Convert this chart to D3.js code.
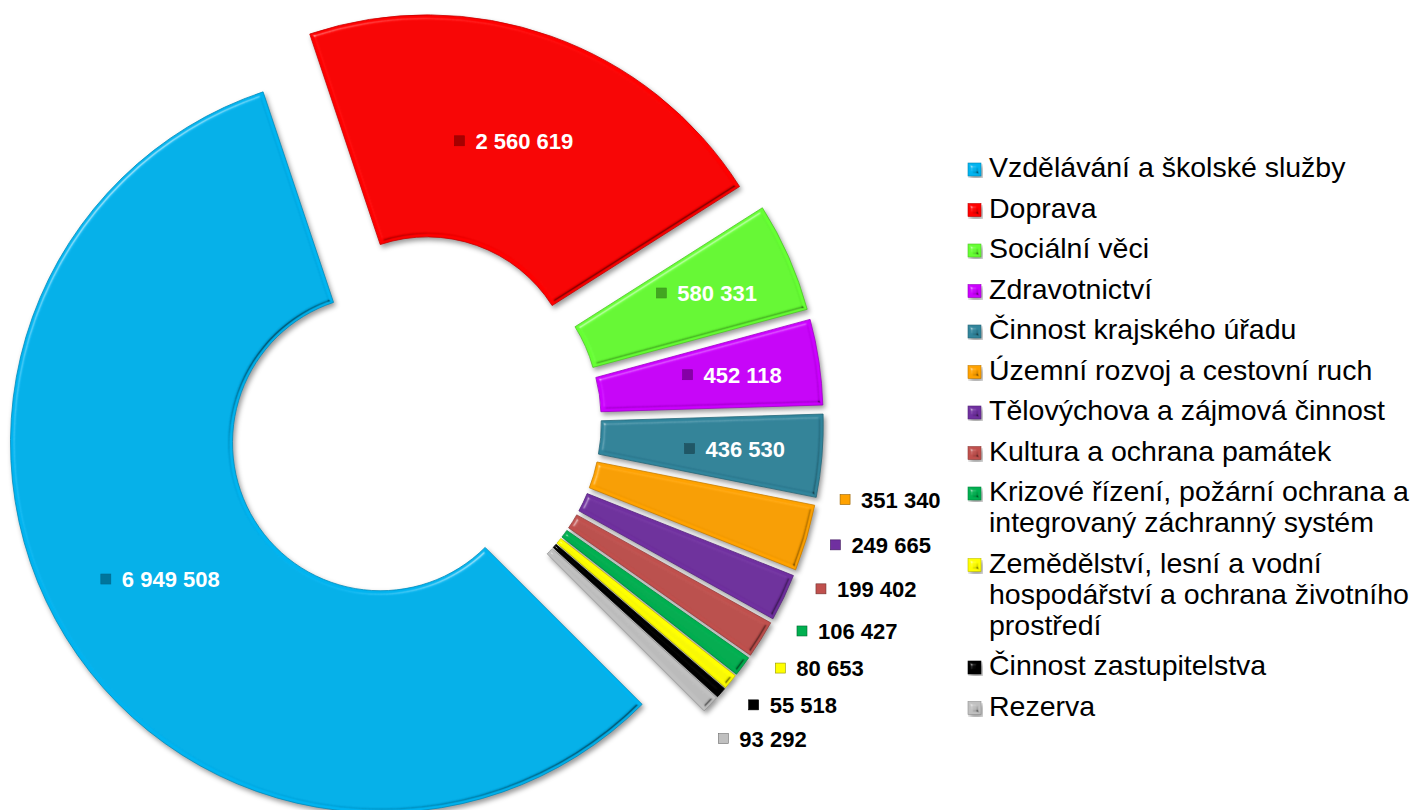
<!DOCTYPE html>
<html>
<head>
<meta charset="utf-8">
<script src="https://cdn.jsdelivr.net/npm/d3@7"></script>
<style>
body{margin:0;background:#fff;}
svg{display:block;}
</style>
</head>
<body>
<script>
//wrapping everything in self executing anonymous function to move to local scope
(function(){
//chart data
var categories = [
    "Vzdělávání a školské služby",
    "Doprava",
    "Sociální věci",
    "Zdravotnictví",
    "Činnost krajského úřadu",
    "Územní rozvoj a cestovní ruch",
    "Tělovýchova a zájmová činnost",
    "Kultura a ochrana památek",
    "Krizové řízení, požární ochrana a integrovaný záchranný systém",
    "Zemědělství, lesní a vodní hospodářství a ochrana životního prostředí",
    "Činnost zastupitelstva",
    "Rezerva"
];
var values = [6949508, 2560619, 580331, 452118, 436530, 351340, 249665, 199402, 106427, 80653, 55518, 93292];
var colors = ["#00b4f0", "#ff0000", "#66ff33", "#cc00ff", "#31859c", "#ffa200", "#7030a0", "#c0504d", "#00b050", "#ffff00", "#000000", "#c0c0c0"];

//frame and donut geometry
var width = 1414,
    height = 810,
    centerX = 414,
    centerY = 422,
    innerRadius = 148,
    outerRadius = 370,
    explode = 39.4,
    startAngle = 135 * Math.PI / 180;

var formatNumber = function(v){
    return d3.format(",")(v).replace(/,/g, " ");
};

//execute script when window is loaded
window.onload = setChart();

function setChart(){
    var svg = d3.select("body")
        .append("svg")
        .attr("width", width)
        .attr("height", height);

    makeFilters(svg);

    var data = categories.map(function(c, i){
        return {name: c, value: values[i], color: colors[i]};
    });

    //pie layout, first slice at 135 degrees, no sorting
    var pie = d3.pie()
        .sort(null)
        .value(function(d){ return d.value; })
        .startAngle(startAngle)
        .endAngle(startAngle + 2 * Math.PI);

    var arcs = pie(data);

    drawSlices(svg, arcs);
    drawLabels(svg, arcs);
    drawLegend(svg, data);
};//end of setChart

//unit vector for a d3 angle (0 = 12 o'clock, clockwise)
function dir(a){
    return [Math.sin(a), -Math.cos(a)];
};

function sliceCenter(d){
    var u = dir((d.startAngle + d.endAngle) / 2);
    return [centerX + explode * u[0], centerY + explode * u[1]];
};

function makeFilters(svg){
    var defs = svg.append("defs");
    var f = defs.append("filter")
        .attr("id", "bevel")
        .attr("color-interpolation-filters", "sRGB")
        .attr("x", "-10%").attr("y", "-10%")
        .attr("width", "125%").attr("height", "125%");
    f.append("feGaussianBlur").attr("in", "SourceAlpha").attr("stdDeviation", 2).attr("result", "blur");
    //highlight from top left
    var hi = f.append("feSpecularLighting")
        .attr("in", "blur").attr("surfaceScale", 4).attr("specularConstant", 1)
        .attr("specularExponent", 30).attr("lighting-color", "#ffffff").attr("result", "hi");
    hi.append("feDistantLight").attr("azimuth", 225).attr("elevation", 40);
    f.append("feColorMatrix").attr("in", "hi").attr("type", "matrix")
        .attr("values", "0 0 0 0 1  0 0 0 0 1  0 0 0 0 1  0 0 0 0.55 0").attr("result", "hiA");
    f.append("feComposite").attr("in", "hiA").attr("in2", "SourceAlpha").attr("operator", "in").attr("result", "hiIn");
    //shade from bottom right
    var lo = f.append("feSpecularLighting")
        .attr("in", "blur").attr("surfaceScale", 4).attr("specularConstant", 1)
        .attr("specularExponent", 30).attr("lighting-color", "#ffffff").attr("result", "lo");
    lo.append("feDistantLight").attr("azimuth", 45).attr("elevation", 40);
    f.append("feColorMatrix").attr("in", "lo").attr("type", "matrix")
        .attr("values", "0 0 0 0 0  0 0 0 0 0  0 0 0 0 0  0 0 0 0.5 0").attr("result", "loA");
    f.append("feComposite").attr("in", "loA").attr("in2", "SourceAlpha").attr("operator", "in").attr("result", "loIn");
    //drop shadow
    f.append("feGaussianBlur").attr("in", "SourceAlpha").attr("stdDeviation", 2.5).attr("result", "sblur");
    f.append("feOffset").attr("in", "sblur").attr("dx", 2).attr("dy", 3).attr("result", "soff");
    f.append("feFlood").attr("flood-color", "#000").attr("flood-opacity", 0.4).attr("result", "flood");
    f.append("feComposite").attr("in", "flood").attr("in2", "soff").attr("operator", "in").attr("result", "shadow");
    var m = f.append("feMerge");
    m.append("feMergeNode").attr("in", "shadow");
    m.append("feMergeNode").attr("in", "SourceGraphic");
    m.append("feMergeNode").attr("in", "hiIn");
    m.append("feMergeNode").attr("in", "loIn");
};//end of makeFilters

function drawSlices(svg, arcs){
    var arc = d3.arc()
        .innerRadius(innerRadius)
        .outerRadius(outerRadius);

    svg.selectAll(".slice")
        .data(arcs)
        .enter()
        .append("path")
        .attr("class", "slice")
        .attr("transform", function(d){
            return "translate(" + sliceCenter(d) + ")";
        })
        .attr("d", arc)
        .style("fill", function(d){ return d.data.color; })
        .style("stroke", function(d){ return d3.color(d.data.color).darker(0.7); })
        .style("stroke-width", 0.8)
        .attr("filter", "url(#bevel)");
};//end of drawSlices

function drawLabels(svg, arcs){
    var minInside = 12 * Math.PI / 180; //slices wider than this get the label inside
    var midRadius = (innerRadius + outerRadius) / 2,
        narrowPush = 30,
        labelGap = 22,
        labelHeight = 20,
        labelSep = 5.5 * Math.PI / 180;

    var inside = arcs.filter(function(d){ return d.endAngle - d.startAngle >= minInside; });
    var outside = arcs.filter(function(d){ return d.endAngle - d.startAngle < minInside; });

    inside.forEach(function(d){ d.inside = true; });
    outside.forEach(function(d){ d.inside = false; });

    var labels = svg.selectAll(".label")
        .data(inside.concat(outside))
        .enter()
        .append("g")
        .attr("class", "label");

    labels.append("rect")
        .attr("width", 10)
        .attr("height", 10)
        .attr("y", -5)
        .style("fill", function(d){
            return d.inside ? d3.color(d.data.color).darker(1.2) : d.data.color;
        })
        .style("stroke", function(d){ return d3.color(d.data.color).darker(1.5); })
        .style("stroke-width", 0.6);

    labels.append("text")
        .attr("x", 21)
        .attr("y", 8)
        .style("font-family", "'Liberation Sans', Arial, sans-serif")
        .style("font-weight", "bold")
        .style("font-size", "22px")
        .style("fill", function(d){ return d.inside ? "#ffffff" : "#000000"; })
        .text(function(d){ return formatNumber(d.data.value); });

    labels.each(function(d){
        d.w = 21 + d3.select(this).select("text").node().getComputedTextLength();
    });

    //inside labels sit near the middle radius, narrow slices push them outward
    inside.forEach(function(d){
        var c = sliceCenter(d),
            span = d.endAngle - d.startAngle,
            u = dir((d.startAngle + d.endAngle) / 2);
        var rho = midRadius + narrowPush * Math.max(0, 1 - span / (Math.PI / 3));
        d.lx = c[0] + rho * u[0];
        d.ly = c[1] + rho * u[1];
    });

    //outside labels: spread along the rim so they do not overlap, last one kept above the first slice edge
    var ang = outside.map(function(d){ return (d.startAngle + d.endAngle) / 2; });
    var n = ang.length;
    ang[n - 1] = Math.min(ang[n - 1], startAngle + 2 * Math.PI - labelSep / 2);
    for (var i = n - 2; i >= 0; i--){
        ang[i] = Math.min(ang[i], ang[i + 1] - labelSep);
    };
    outside.forEach(function(d, i){
        var u = dir(ang[i]);
        var rho = outerRadius + explode + labelGap + d.w / 2 * Math.abs(u[0]) + labelHeight / 2 * Math.abs(u[1]);
        d.lx = centerX + rho * u[0];
        d.ly = centerY + rho * u[1];
    });

    //center the marker + number group on the label point
    labels.attr("transform", function(d){
        return "translate(" + (d.lx - d.w / 2) + "," + d.ly + ")";
    });
};//end of drawLabels

function drawLegend(svg, data){
    var legendX = 968,
        textX = 989,
        firstBaseline = 177,
        lineHeight = 31,
        itemGap = 9.5,
        maxWidth = width - textX - 2;

    var legend = svg.append("g").attr("class", "legend");
    var y = firstBaseline;

    data.forEach(function(d){
        var item = legend.append("g");
        var text = item.append("text")
            .attr("x", textX)
            .attr("y", y)
            .style("font-family", "'Liberation Sans', Arial, sans-serif")
            .style("font-size", "28.5px")
            .style("fill", "#000");

        //wrap long names on word boundaries
        var words = d.name.split(" "),
            line = [],
            lines = 0,
            tspan = text.append("tspan").attr("x", textX).attr("y", y);
        words.forEach(function(w){
            line.push(w);
            tspan.text(line.join(" "));
            if (tspan.node().getComputedTextLength() > maxWidth && line.length > 1){
                line.pop();
                tspan.text(line.join(" "));
                line = [w];
                lines++;
                tspan = text.append("tspan")
                    .attr("x", textX)
                    .attr("y", y + lines * lineHeight)
                    .text(w);
            };
        });
        lines++;

        item.append("rect")
            .attr("x", legendX)
            .attr("y", y - 14)
            .attr("width", 13)
            .attr("height", 13)
            .style("fill", d.color)
            .style("stroke", d3.color(d.color).darker(0.8))
            .style("stroke-width", 0.6)
            .attr("filter", "url(#bevel)");

        y += lines * lineHeight + itemGap;
    });
};//end of drawLegend

})();
</script>
</body>
</html>
